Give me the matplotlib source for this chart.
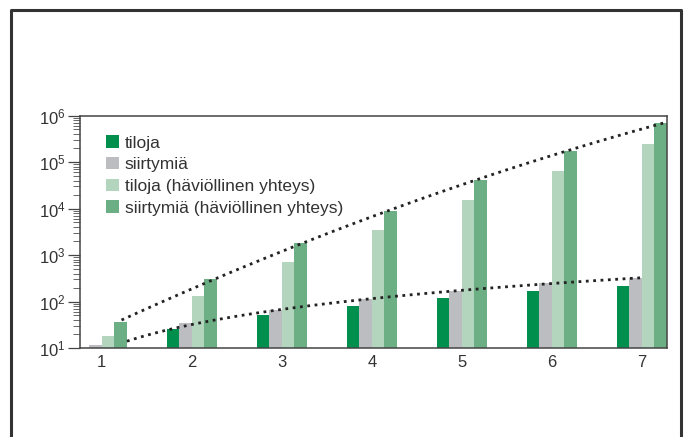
import numpy as np
import matplotlib.pyplot as plt
from matplotlib.patches import Patch
from matplotlib.lines import Line2D

plt.rcParams['font.family'] = ['Liberation Sans', 'DejaVu Sans']
plt.rcParams['mathtext.default'] = 'regular'

# data (log scale, values under 10 are hidden)
n = np.array([1, 2, 3, 4, 5, 6, 7])
tiloja = np.array([2, 25, 49, 80, 119, 168, 215])
siirtymia = np.array([10.5, 33, 66, 111, 171, 254, 326])
tiloja_hav = np.array([17, 133, 720, 3450, 15500, 65000, 248000])
siirtymia_hav = np.array([35, 305, 1840, 8830, 41000, 172600, 700000])

labels = ['tiloja', 'siirtymiä', 'tiloja (häviöllinen yhteys)',
          'siirtymiä (häviöllinen yhteys)']
colors = ['#008f4c', '#bcbdc1', '#b3d4bd', '#6caf85']
txt = '#333333'

fig = plt.figure(figsize=(6.9, 4.37), dpi=100)
ax = fig.add_axes([80/690, 1 - 348/437, 587/690, 232.5/437])

w = 0.139
series = [tiloja, siirtymia, tiloja_hav, siirtymia_hav]
for i, (vals, c) in enumerate(zip(series, colors)):
    ax.bar(n + (i - 1.5) * w, vals, width=w, color=c, bottom=1, zorder=2)

# trend lines
up = np.polyfit(n + 0.2, np.log10(siirtymia_hav), 2)
xu = np.linspace(1.22, 7.28, 100)
ax.plot(xu, 10 ** np.polyval(up, xu), ls=':', lw=2.0, color='#222222', zorder=3)

lo = np.polyfit(np.log10(n[1:]), np.log10(siirtymia[1:]), 1)
xl = np.linspace(1.28, 7.0, 100)
ax.plot(xl, 10 ** np.polyval(lo, np.log10(xl)), ls=':', lw=2.0,
        color='#222222', zorder=3)

ax.set_yscale('log')
ax.set_ylim(10, 1e6)
ax.set_xlim(0.759, 7.278)
ax.set_xticks(n)
ax.tick_params(axis='x', length=0, pad=5, labelsize=12, labelcolor=txt)
ax.tick_params(axis='y', which='major', length=8.5, width=0.9, color='#444444',
               pad=2, labelsize=12, labelcolor=txt)
ax.tick_params(axis='y', which='minor', length=4.8, width=0.7, color='#666666')
for s in ax.spines.values():
    s.set_color('#444444')
    s.set_linewidth(1.1)

handles = [Patch(facecolor=c, edgecolor='none') for c in colors]
ax.legend(handles, labels, loc='upper left', bbox_to_anchor=(0.045, 0.915),
          frameon=False, fontsize=12.5, handlelength=0.72, handleheight=0.72,
          handletextpad=0.33, labelspacing=0.37, borderpad=0, borderaxespad=0,
          labelcolor=txt)

# outer frame (open at the bottom)
fig.add_artist(Line2D([11/690, 11/690, 681/690, 681/690],
                      [0, 1 - 10/437, 1 - 10/437, 0], color='#333333', lw=2.2))

fig.savefig('out.png', dpi=100)
